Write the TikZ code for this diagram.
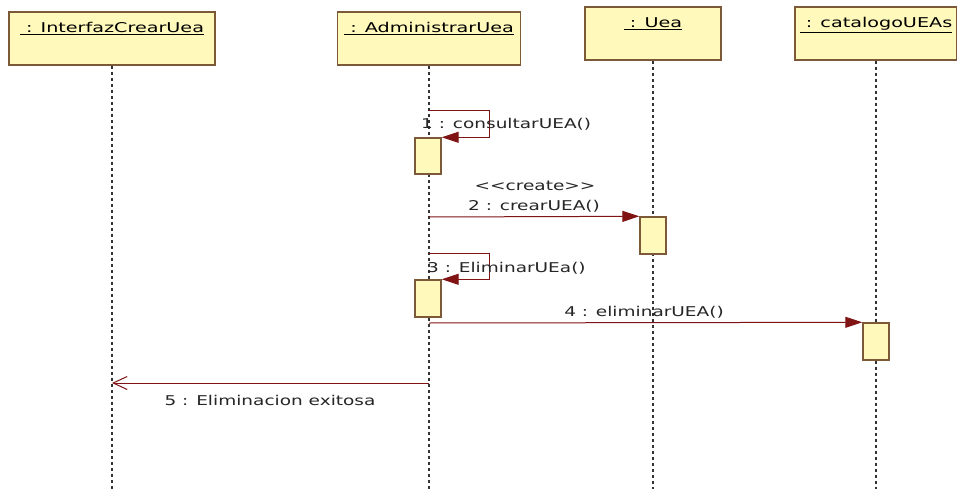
\documentclass[tikz,border=0pt]{standalone}
\usepackage{fontspec}
\setmainfont{DejaVu Sans}
\newfontfamily\msgfont[FakeStretch=1.37]{DejaVu Sans}
\newfontfamily\objfont[FakeStretch=1.42]{DejaVu Sans}
\usetikzlibrary{arrows.meta}
\definecolor{umlfill}{RGB}{255,249,188}
\definecolor{umlborder}{RGB}{125,90,55}
\definecolor{msgred}{RGB}{128,20,20}
\begin{document}
\begin{tikzpicture}[x=1pt,y=-1pt]
        % Styles
        \tikzstyle{object}=[draw=umlborder,line width=1.4pt,fill=umlfill,inner sep=0pt,minimum height=53pt,text height=21pt,text depth=32pt,font=\objfont\fontsize{13.5}{16}\selectfont]
        \tikzstyle{activation}=[draw=umlborder,line width=1.4pt,fill=umlfill,inner sep=0pt,minimum width=26pt]
        \tikzstyle{lifeline}=[black!80,line width=1.6pt,dash pattern=on 3pt off 3pt]
        \tikzstyle{message}=[msgred,line width=1pt,-{Triangle[length=17pt,width=11pt]}]
        \tikzstyle{reply}=[msgred,line width=1pt,-{Straight Barb[length=14pt,width=13pt,line width=1pt]}]
        \tikzstyle{msgtext}=[inner sep=0pt,text=black!85,font=\msgfont\fontsize{13.5}{16}\selectfont]
        %The graphic
        \fill[white] (0,0) rectangle (957,489);
        \useasboundingbox (0,0) rectangle (957,489);
        %objects
        \node[object,minimum width=206pt] (iface) at (112,38.5) {\underline{\ : InterfazCrearUea}};
        \node[object,minimum width=183pt] (admin) at (429,38.5) {\underline{\ : AdministrarUea}};
        \node[object,minimum width=136pt] (uea) at (653,33.5) {\underline{\ : Uea}};
        \node[object,minimum width=162pt] (cat) at (876,33.5) {\underline{\ : catalogoUEAs}};
        %lifelines
        \foreach \obj in {iface,admin,uea,cat}
            \draw[lifeline] (\obj) -- (\obj |- 0,489);
        %activations
        \node[activation,minimum height=36pt] (act1) at (428,156) {};
        \node[activation,minimum height=37pt] (act2) at (653,235.5) {};
        \node[activation,minimum height=37pt] (act3) at (428,298.5) {};
        \node[activation,minimum height=37pt] (act4) at (876,341.5) {};
        %messages
        \coordinate (s1) at (429,111);
        \draw[message] (s1) -- ++(60,0) |- (act1.north east);
        \coordinate (m2) at (429,217);
        \draw[message] (m2) -- (act2.north west);
        \coordinate (s3) at (429,253);
        \draw[message] (s3) -- ++(60,0) |- (act3.north east);
        \coordinate (m4) at (429,323);
        \draw[message] (m4) -- (act4.north west);
        \coordinate (m5) at (429,383);
        \draw[reply] (m5) -- (m5 -| iface);
        %labels
        \node[msgtext,anchor=base west] (t1) at (421,129) {1 : consultarUEA()};
        \node[msgtext,anchor=base] (t2a) at (535,190) {<{}<create>{}>};
        \node[msgtext,anchor=base] (t2) at (534,210) {2 : crearUEA()};
        \node[msgtext,anchor=base west] (t3) at (427,272) {3 : EliminarUEa()};
        \node[msgtext,anchor=base] (t4) at (644,316) {4 : eliminarUEA()};
        \node[msgtext,anchor=base] (t5) at (270,405) {5 : Eliminacion exitosa};
\end{tikzpicture}
\end{document}
